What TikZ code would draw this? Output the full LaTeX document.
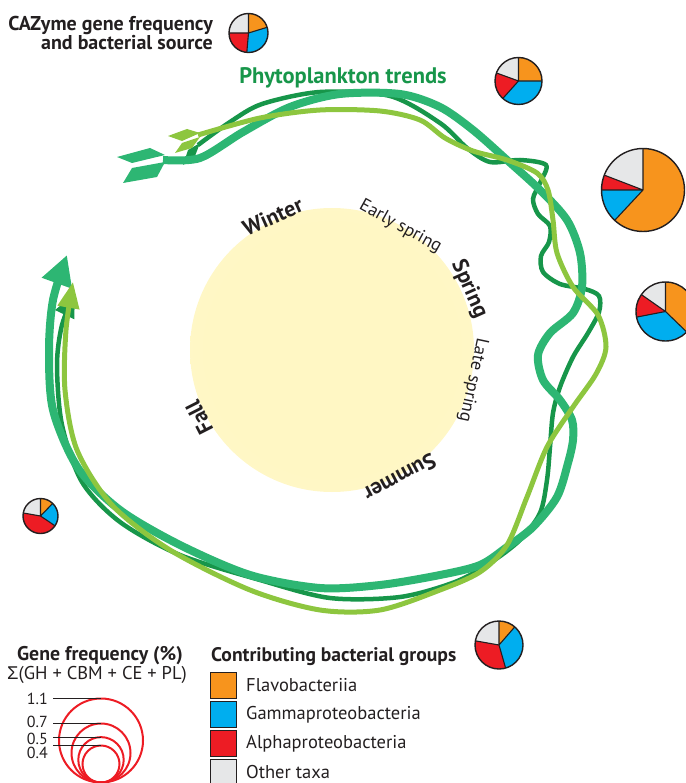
\documentclass[tikz,border=0pt]{standalone}
\usepackage{fontspec}
\setmainfont{PT Sans}
\newfontfamily\symfont{Liberation Sans}
\usetikzlibrary{arrows.meta,positioning}
\definecolor{trendD}{HTML}{17964A}
\definecolor{trendM}{HTML}{2DB673}
\definecolor{trendL}{HTML}{8DC63F}
\definecolor{flavo}{HTML}{F7941D}
\definecolor{gamma}{HTML}{00AEEF}
\definecolor{alpha}{HTML}{ED1C24}
\definecolor{other}{HTML}{E6E7E8}
\definecolor{ink}{HTML}{231F20}
\definecolor{sunc}{HTML}{FFF7C4}
\pgfdeclareradialshading{sunglow}{\pgfpoint{0bp}{0bp}}{color(0bp)=(sunc); color(22bp)=(sunc); color(34bp)=(sunc!88!white); color(43bp)=(sunc!60!white); color(50bp)=(sunc!12!white); color(52bp)=(white); color(80bp)=(white)}
\tikzset{
  lbl_b/.style = {font=\bfseries\fontsize{22}{22}\selectfont, text=ink,
    inner sep=0pt},% season, bold
  lbl_r/.style = {font=\fontsize{18}{18}\selectfont, text=ink,
    inner sep=0pt},% sub-season
  leg_t/.style = {font=\fontsize{18.5}{18.5}\selectfont, text=ink,
    inner sep=0pt},% legend text
  leg_n/.style = {font=\fontsize{16}{16}\selectfont, text=ink,
    inner sep=0pt, anchor=east},% size key number
  leg_box/.style = {draw=ink, line width=1pt, minimum size=26pt,
    inner sep=0pt},% legend colour square
  trend_d/.style = {draw=trendD, line width=4.5pt},% dark trend
  trend_m/.style = {draw=trendM, line width=8pt},% medium trend
  trend_l/.style = {draw=trendL, line width=5pt},% light trend
  freq/.style = {draw=alpha, line width=2pt}% size key circle
}
% pie: centre, radius, flavo, gamma, alpha (degrees, clockwise from top)
\newcommand{\cazpie}[5]{%
  \fill[other] (#1) circle[radius=#2];
  \fill[flavo] (#1) -- ++(-90:#2) arc[start angle=-90, delta angle=#3, radius=#2] -- cycle;
  \fill[gamma] (#1) -- ++({-90+#3}:#2) arc[start angle={-90+#3}, delta angle=#4, radius=#2] -- cycle;
  \fill[alpha] (#1) -- ++({-90+#3+#4}:#2) arc[start angle={-90+#3+#4}, delta angle=#5, radius=#2] -- cycle;
  \draw[ink, line width=1.1pt] (#1) -- ++(-90:#2) (#1) -- ++({-90+#3}:#2)
    (#1) -- ++({-90+#3+#4}:#2) (#1) -- ++({-90+#3+#4+#5}:#2);
  \draw[ink, line width=1.4pt] (#1) circle[radius=#2];
}
\begin{document}
\begin{tikzpicture}[x=1pt, y=-1pt, >={Triangle}]
        \useasboundingbox (0,0) rectangle (685,783);
        % sun
        \coordinate (sun) at (332,350);
        \shade[shading=sunglow] (sun) circle[radius=142];
        \node [lbl_b, rotate=24] (winter) at ([shift={(-114:146)}]sun) {Winter};
        \node [lbl_r, rotate=-29] (earlyspring) at ([shift={(-61:141)}]sun) {Early spring};
        \node [lbl_b, rotate=-66] (spring) at ([shift={(-24:150)}]sun) {Spring};
        \node [lbl_r, rotate=-102] (latespring) at ([shift={(12:144)}]sun) {Late spring};
        \node [lbl_b, rotate=-152] (summer) at ([shift={(62:145)}]sun) {Summer};
        \node [lbl_b, rotate=117] (fall) at ([shift={(153:149)}]sun) {Fall};

        % trends
        \fill[trendD] (183,165) -- (188,150) -- (200,143) -- (195,156) -- cycle;
        \draw[trend_d, -{Triangle[width=20pt,length=24pt]}] plot[smooth] coordinates {
          (198,145) (230,122) (262,104) (320,92) (390,96) (440,123) (467,148) (490,162)
          (520,160) (546,165) (540,183) (533,199) (538,214) (550,226) (549,242) (541,256)
          (543,272) (560,284) (585,289) (599,296) (599,312) (588,333) (573,357) (560,387)
          (553,413) (550,447) (547,480) (540,513) (520,540) (490,563) (455,582) (400,597)
          (330,598) (260,580) (180,555) (120,522) (82,482) (62,425) (57,365) (62,325) (75,293)};
        \fill[trendM] (117,157) -- (150,148) -- (165,155) -- (132,163) -- cycle;
        \fill[trendM] (123,183) -- (132,168) -- (165,162) -- (157,177) -- cycle;
        \draw[trend_m, -{Triangle[width=30pt,length=30pt]}] plot[smooth] coordinates {
          (163,160) (200,158) (243,132) (290,107) (340,94) (400,94) (440,107) (473,130)
          (507,160) (540,190) (567,220) (580,253) (582,287) (573,313) (550,333) (538,355)
          (543,380) (560,400) (572,420) (573,440) (568,463) (557,497) (533,527) (507,547)
          (480,565) (440,575) (380,585) (320,588) (250,575) (180,545) (120,510) (78,468)
          (53,410) (49,350) (53,300) (67,255)};
        \fill[trendL] (168,136) -- (187,129) -- (200,133) -- (182,141) -- cycle;
        \fill[trendL] (175,153) -- (182,143) -- (200,137) -- (192,148) -- cycle;
        \draw[trend_l, -{Triangle[width=21pt,length=26pt]}] plot[smooth] coordinates {
          (198,135) (260,118) (320,110) (380,111) (420,120) (445,138) (473,151) (507,160)
          (537,173) (548,190) (553,220) (557,253) (573,287) (598,315) (606,347) (596,374)
          (573,407) (547,447) (527,497) (507,545) (480,572) (440,590) (380,610) (320,610)
          (250,590) (170,550) (112,505) (77,450) (65,390) (66,330) (73,282)};
        \node [font=\bfseries\fontsize{22.5}{22.5}\selectfont, text=trendD, inner sep=0pt]
          (trends) at (343,78) {Phytoplankton trends};

        % pies
        \node [font=\bfseries\fontsize{20}{18.5}\selectfont, text=ink, align=right,
          inner sep=0pt, anchor=east] (title) at (213,33) {CAZyme gene frequency\\and bacterial source};
        \coordinate (p0) at (248.5,33);
        \coordinate (p1) at (518.5,81);
        \coordinate (p2) at (643,190);
        \coordinate (p3) at (665.5,311.5);
        \coordinate (p4) at (499,645);
        \coordinate (p5) at (40.5,516);
        \cazpie{p0}{19.5}{73}{112}{85}
        \cazpie{p1}{23.5}{90}{132}{68}
        \cazpie{p2}{41.5}{223}{47}{21}
        \cazpie{p3}{29.5}{134}{125}{46}
        \cazpie{p4}{24}{41}{123}{116}
        \cazpie{p5}{17.5}{44}{80}{156}

        % gene frequency key
        \node [font=\bfseries\fontsize{19.8}{19.8}\selectfont, text=ink, inner sep=0pt]
          (freqtitle) at (100,656) {Gene frequency (\%)};
        \node [leg_t] (freqsum) at (97,675) {{\symfont Σ}(GH + CBM + CE + PL)};
        \draw[freq] (101,740.5) circle[radius=42];
        \draw[freq] (101,753) circle[radius=29.5];
        \draw[freq] (101,759.8) circle[radius=22.7];
        \draw[freq] (101,764) circle[radius=18.5];
        \node [leg_n] (l11) at (48,698.5) {1.1};
        \node [leg_n] (l07) at (48,721.5) {0.7};
        \node [leg_n] (l05) at (48,738.5) {0.5};
        \node [leg_n] (l04) at (48,753) {0.4};
        \coordinate (a11) at (53,698.5);
        \coordinate (a07) at (53,723.5);
        \coordinate (a05) at (53,737.1);
        \coordinate (a04) at (53,745.5);
        \coordinate (t11) at (101,698.5);
        \coordinate (t07) at (101,723.5);
        \coordinate (t05) at (101,737.1);
        \coordinate (t04) at (101,745.5);
        \draw[ink, line width=1pt] (a11) -- (t11);
        \draw[ink, line width=1pt] (a07) -- (t07);
        \draw[ink, line width=1pt] (a05) -- (t05);
        \draw[ink, line width=1pt] (a04) -- (t04);

        % bacterial groups key
        \node [font=\bfseries\fontsize{19.6}{19.6}\selectfont, text=ink, inner sep=0pt,
          anchor=west] (groups) at (211,657) {Contributing bacterial groups};
        \node [leg_box, fill=flavo, anchor=north west] (b_flavo) at (210,672) {};
        \node [leg_box, fill=gamma, below=2pt of b_flavo] (b_gamma) {};
        \node [leg_box, fill=alpha, below=2pt of b_gamma] (b_alpha) {};
        \node [leg_box, fill=other, below=2pt of b_alpha] (b_other) {};
        \node [leg_t, right=9pt of b_flavo] (t_flavo) {Flavobacteriia};
        \node [leg_t, right=9pt of b_gamma] (t_gamma) {Gammaproteobacteria};
        \node [leg_t, right=9pt of b_alpha] (t_alpha) {Alphaproteobacteria};
        \node [leg_t, right=9pt of b_other] (t_other) {Other taxa};
\end{tikzpicture}
\end{document}
